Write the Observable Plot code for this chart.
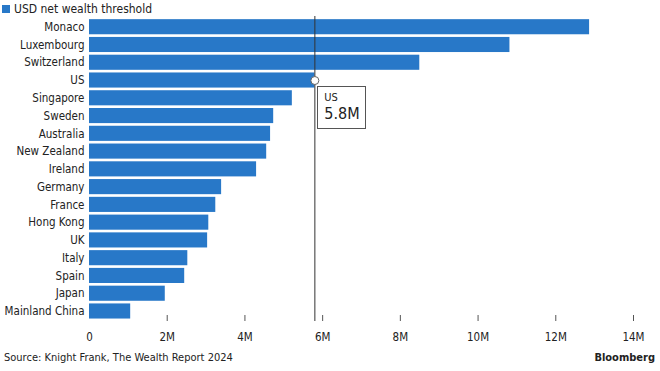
<!DOCTYPE html>
<html><head><meta charset="utf-8">
<script src="https://cdn.jsdelivr.net/npm/d3@7"></script>
<script src="https://cdn.jsdelivr.net/npm/@observablehq/plot@0.6"></script>
<style>
body{margin:0;background:#fff;}
#wrap{position:relative;width:660px;height:371px;overflow:hidden;font-family:"DejaVu Sans Condensed","DejaVu Sans",sans-serif;font-stretch:condensed;color:#222;}
#legend{height:16px;font-size:12px;line-height:16px;display:flex;align-items:center;padding-left:2px;padding-top:1px;box-sizing:border-box;}
#legend .sw{display:inline-block;width:8px;height:8px;background:#2878c8;margin-right:4px;}
#chart{height:331px;}
#footer{height:24px;display:flex;justify-content:space-between;padding:4px 5px 0 4px;font-size:11px;line-height:14px;box-sizing:border-box;color:#222;}
#footer .bb{font-weight:bold;font-family:"DejaVu Sans Condensed","DejaVu Sans",sans-serif;}
#tip{position:absolute;border:1px solid #555;background:#fff;padding:4px 5px 4px 6px;}
#tip .t1{font-size:11px;line-height:13px;}
#tip .t2{font-size:16px;line-height:20px;}
</style></head><body>
<div id="wrap">
<div id="legend"><span class="sw"></span><span>USD net wealth threshold</span></div>
<div id="chart"></div>
<div id="footer"><span>Source: Knight Frank, The Wealth Report 2024</span><span class="bb">Bloomberg</span></div>
</div>
<script>
const countries = ["Monaco","Luxembourg","Switzerland","US","Singapore","Sweden","Australia","New Zealand","Ireland","Germany","France","Hong Kong","UK","Italy","Spain","Japan","Mainland China"];
const values = [12.87,10.82,8.5,5.8,5.22,4.74,4.66,4.56,4.3,3.4,3.25,3.07,3.04,2.53,2.45,1.95,1.06];
const xTicks = [0,2,4,6,8,10,12,14];
const highlight = "US";
const legendLabel = "USD net wealth threshold";

const data = countries.map((c,i)=>({country:c, value:values[i]*1e6}));
const hi = data.find(d=>d.country===highlight);
const fmt = d => d===0 ? "0" : (d/1e6)+"M";
const FONT = '"DejaVu Sans Condensed","DejaVu Sans",sans-serif';

const chart = Plot.plot({
  width:660, height:331,
  marginTop:0, marginBottom:32, marginLeft:89, marginRight:27,
  style:{fontFamily:FONT, fontSize:"11.5px", color:"#222", background:"#fff", overflow:"visible"},
  x:{domain:[0,14e6], label:null},
  y:{domain:countries, range:[0.5,305.2], padding:0.15, round:false, label:null},
  marks:[
    Plot.axisX({ticks:xTicks.filter(d=>d>0).map(d=>d*1e6), tickSize:6, tickFormat:()=>"", stroke:"#555", label:null}),
    Plot.axisX({ticks:xTicks.map(d=>d*1e6), tickSize:0, tickPadding:17, tickFormat:fmt, fill:"#222", label:null}),
    Plot.axisY({tickSize:0, tickPadding:5, fill:"#222", label:null}),
    Plot.barX(data, {x:"value", y:"country", fill:"#2878c8"}),
    Plot.ruleX([hi], {x:"value", stroke:"#333", strokeWidth:1, insetBottom:-6}),
    Plot.dot([hi], {x:"value", y:"country", r:4, fill:"#fff", stroke:"#666", strokeWidth:1})
  ]
});
document.getElementById("chart").appendChild(chart);

const sx = chart.scale("x"), sy = chart.scale("y");
const px = sx.apply(hi.value);
const py = 16 + sy.apply(hi.country) + sy.bandwidth/2;
const tip = document.createElement("div");
tip.id = "tip";
tip.innerHTML = `<div class="t1">${hi.country}</div><div class="t2">${fmt(hi.value)}</div>`;
tip.style.left = (px+3)+"px";
tip.style.top = (py+6)+"px";
document.getElementById("wrap").appendChild(tip);
</script>
</body></html>
